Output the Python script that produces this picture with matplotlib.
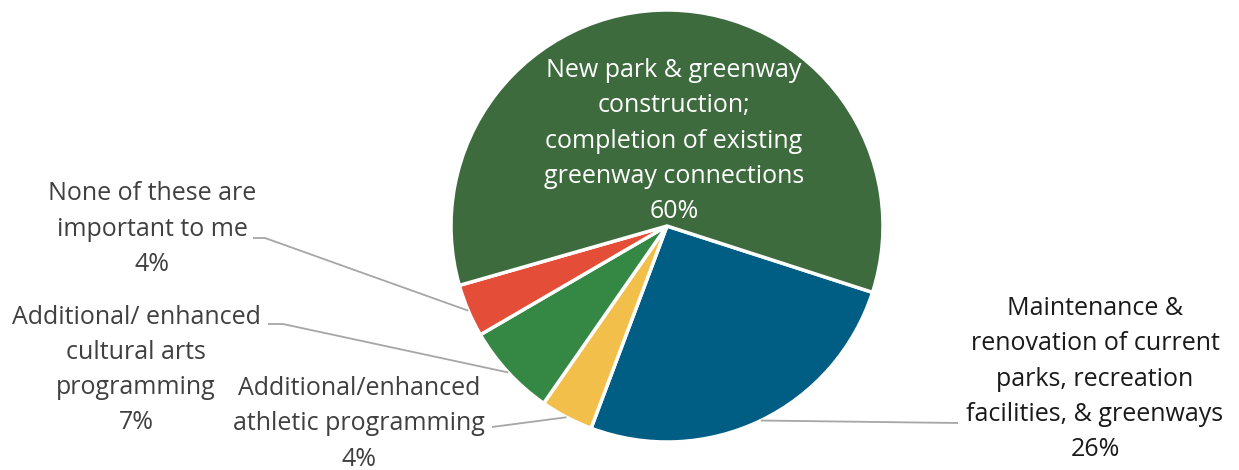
import numpy as np
import matplotlib.pyplot as plt

plt.rcParams['font.family'] = ['Open Sans', 'DejaVu Sans']

# survey shares, drawn clockwise
categories = [
    "Maintenance &\nrenovation of current\nparks, recreation\nfacilities, & greenways",
    "Additional/enhanced\nathletic programming",
    "Additional/ enhanced\ncultural arts\nprogramming",
    "None of these are\nimportant to me",
    "New park & greenway\nconstruction;\ncompletion of existing\ngreenway connections",
]
shares = [26, 4, 7, 4, 60]
colors = ["#005D84", "#F3BF4B", "#358844", "#E44D37", "#3E6B3D"]

W, H = 1239, 470
fig = plt.figure(figsize=(W / 100, H / 100), dpi=100)
ax = fig.add_axes([0, 0, 1, 1])

cx, cy, r = 667, H - 226, 216
wedges, _ = ax.pie(shares, colors=colors, startangle=-17.9, counterclock=False,
                   center=(cx, cy), radius=r, frame=True,
                   wedgeprops=dict(edgecolor='white', linewidth=2.5))
ax.set_xlim(0, W)
ax.set_ylim(0, H)
ax.set_aspect('equal')
ax.axis('off')

fs = 18
ls = 1.53
# label placement: (text x, text y of centre, text colour, elbow x, line end x, line y)
layout = [
    (1095, H - 379, '#1a1a1a', None, 958, H - 423),
    (359, H - 424, '#404040', None, 492, H - 427),
    (136, H - 370, '#404040', 283, 268, H - 324),
    (152, H - 229, '#404040', 265, 253, H - 238),
]

for i, (tx, ty, tc, ex, lx, ly) in enumerate(layout):
    w = wedges[i]
    mid = np.deg2rad((w.theta1 + w.theta2) / 2)
    ax_pt = (cx + r * np.cos(mid), cy + r * np.sin(mid))
    if ex is None:
        xs, ys = [ax_pt[0], lx], [ax_pt[1], ly]
    else:
        xs, ys = [ax_pt[0], ex, lx], [ax_pt[1], ly, ly]
    ax.plot(xs, ys, color='#A6A6A6', lw=1.3, solid_capstyle='butt')
    ax.text(tx, ty, f"{categories[i]}\n{shares[i]}%", ha='center', va='center',
            fontsize=fs, color=tc, linespacing=ls)

ax.text(674, H - 141, f"{categories[4]}\n{shares[4]}%", ha='center', va='center',
        fontsize=fs, color='white', linespacing=ls)

fig.savefig("out.png", dpi=100)
